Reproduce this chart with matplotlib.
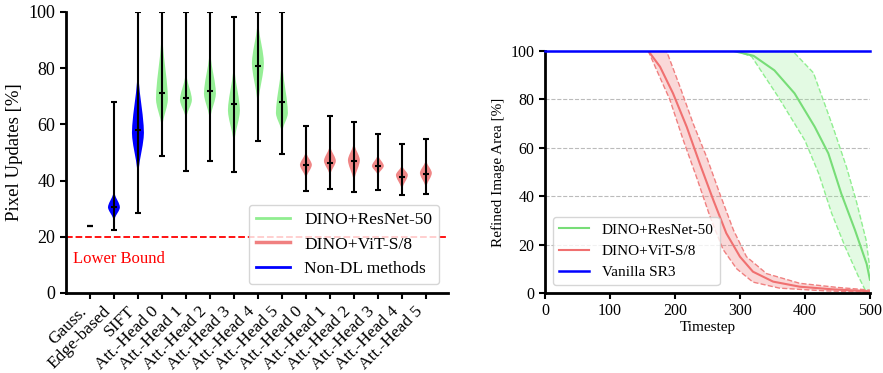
import numpy as np
import matplotlib
matplotlib.use('Agg')
import matplotlib.pyplot as plt
from matplotlib.lines import Line2D

plt.rcParams['font.family'] = ['Liberation Serif', 'DejaVu Serif']

# ---------------- left panel data ----------------
labels = ['Gauss.', 'Edge-based', 'SIFT',
          'Att.-Head 0', 'Att.-Head 1', 'Att.-Head 2', 'Att.-Head 3', 'Att.-Head 4', 'Att.-Head 5',
          'Att.-Head 0', 'Att.-Head 1', 'Att.-Head 2', 'Att.-Head 3', 'Att.-Head 4', 'Att.-Head 5']
groups = ['non', 'non', 'non', 'res', 'res', 'res', 'res', 'res', 'res',
          'vit', 'vit', 'vit', 'vit', 'vit', 'vit']
v_min = [24, 22.4, 28.6, 48.9, 43.4, 47.1, 43.0, 54.0, 49.5, 36.4, 37.0, 36.0, 36.8, 35.0, 35.1]
v_max = [24, 68.0, 100, 100, 100, 100, 98.3, 100, 100, 59.4, 63.1, 60.8, 56.7, 53.0, 54.9]
v_med = [24, 30.5, 58.0, 71.3, 69.5, 71.9, 67.3, 80.8, 68.0, 45.6, 46.1, 47.0, 45.2, 41.4, 42.3]
# visible extent of each violin body and the height where it is widest
shape_lo = [24, 25.0, 39.0, 57.0, 61.0, 60.0, 51.0, 64.0, 56.0, 40.0, 41.0, 38.4, 41.4, 36.0, 36.6]
shape_pk = [24, 30.5, 57.0, 69.0, 68.7, 71.0, 65.0, 81.8, 64.0, 45.6, 47.0, 47.3, 45.2, 42.0, 42.7]
shape_hi = [24, 37.0, 83.0, 97.0, 80.0, 89.0, 84.0, 99.6, 86.0, 51.0, 53.3, 54.4, 49.8, 46.0, 48.0]
# relative width profile from tip (0) to widest point (1)
prof_t = [0.0, 0.15, 0.3, 0.45, 0.6, 0.75, 0.9, 1.0]
prof_w = [0.0, 0.05, 0.15, 0.32, 0.55, 0.78, 0.95, 1.0]

colors = {'non': '#0000ff', 'res': '#90ee90', 'vit': '#f08080'}

# ---------------- right panel data ----------------
res_t = [0, 290, 321, 353, 384, 415, 436, 456, 477, 495, 500]
res_m = [100, 100, 98, 92, 82.5, 68.7, 57.7, 41, 26, 12, 5.5]
res_up_t = [0, 381, 413, 443, 464, 479, 494, 500]
res_up = [100, 100, 91, 68.7, 52, 38, 22, 10]
res_lo_t = [0, 295, 318, 359, 400, 421, 441, 462, 482, 495, 500]
res_lo = [100, 100, 97.7, 81, 63, 49.5, 33, 19, 7, 0, 0]

vit_t = [0, 159, 177, 197, 218, 238, 259, 279, 300, 320, 351, 392, 443, 500]
vit_m = [100, 100, 93.5, 82.5, 68.7, 53.6, 38.4, 24.7, 15, 8.8, 4.7, 2.6, 1.5, 0.7]
vit_up_t = [0, 187, 208, 228, 249, 269, 290, 310, 341, 392, 450, 500]
vit_up = [100, 100, 85, 70, 56, 41, 26, 15, 8, 4, 2.3, 1.2]
vit_lo_t = [0, 159, 172, 192, 213, 233, 254, 274, 295, 320, 361, 430, 500]
vit_lo = [100, 100, 92, 80, 63, 48, 31.5, 18, 10, 4.5, 2, 0.9, 0.3]

sr3_t = [0, 500]
sr3_v = [100, 100]

fig = plt.figure(figsize=(8.83, 3.73), dpi=100)
ax1 = fig.add_axes([0.0747, 0.2145, 0.4326, 0.7534])
ax2 = fig.add_axes([0.6172, 0.2145, 0.368, 0.6488])

# build violin stats from the read shapes
positions = np.arange(1, len(labels) + 1)
stats = []
for i in range(len(labels)):
    lo, pk, hi = shape_lo[i], shape_pk[i], shape_hi[i]
    if hi - lo < 1e-6:
        coords = np.array([lo - 0.01, lo, lo + 0.01])
        vals = np.array([0.0, 1.0, 0.0])
    else:
        low_c = [lo + t * (pk - lo) for t in prof_t]
        up_c = [hi - t * (hi - pk) for t in prof_t[::-1][1:]]
        coords = np.array(low_c + up_c)
        vals = np.array(prof_w + prof_w[::-1][1:])
    stats.append(dict(coords=coords, vals=vals, mean=v_med[i], median=v_med[i],
                      min=v_min[i], max=v_max[i]))

parts = ax1.violin(stats, positions=positions, widths=0.5,
                   showmeans=False, showextrema=True, showmedians=True)
for i, body in enumerate(parts['bodies']):
    body.set_facecolor(colors[groups[i]])
    body.set_edgecolor('none')
    body.set_alpha(1.0 if groups[i] == 'non' else 0.95)
    if shape_hi[i] - shape_lo[i] < 1e-6:
        body.set_visible(False)
for key in ['cbars', 'cmins', 'cmaxes', 'cmedians']:
    parts[key].set_color('black')
    parts[key].set_linewidth(1.5)
    parts[key].set_zorder(3)

ax1.axhline(20, color='red', linestyle='--', linewidth=1.3, zorder=1)
ax1.text(0.29, 12, 'Lower Bound', color='red', fontsize=12, va='center', ha='left')

ax1.set_xlim(0, 15.92)
ax1.set_ylim(0, 100)
ax1.set_xticks(positions)
ax1.set_xticklabels(labels, rotation=45, ha='right', fontsize=12.5)
ax1.set_yticks([0, 20, 40, 60, 80, 100])
ax1.tick_params(axis='y', labelsize=13, width=1.5, length=4)
ax1.tick_params(axis='x', width=1.5, length=4)
ax1.set_ylabel('Pixel Updates [%]', fontsize=13.5)
ax1.spines['top'].set_visible(False)
ax1.spines['right'].set_visible(False)
ax1.spines['left'].set_linewidth(2)
ax1.spines['bottom'].set_linewidth(2)

handles1 = [Line2D([], [], color='#90ee90', lw=2),
            Line2D([], [], color='#f08080', lw=2.5),
            Line2D([], [], color='#0000ff', lw=2)]
ax1.legend(handles1, ['DINO+ResNet-50', 'DINO+ViT-S/8', 'Non-DL methods'],
           loc='lower right', fontsize=12.5)

# ---------------- right panel ----------------
ax2.fill(res_up_t + res_lo_t[::-1], res_up + res_lo[::-1], color='#90ee90', alpha=0.25, linewidth=0)
ax2.fill(vit_up_t + vit_lo_t[::-1], vit_up + vit_lo[::-1], color='#f08080', alpha=0.3, linewidth=0)
ax2.plot(res_up_t, res_up, color='#90ee90', linestyle='--', linewidth=1)
ax2.plot(res_lo_t, res_lo, color='#90ee90', linestyle='--', linewidth=1)
ax2.plot(vit_up_t, vit_up, color='#f08080', linestyle='--', linewidth=1)
ax2.plot(vit_lo_t, vit_lo, color='#f08080', linestyle='--', linewidth=1)

ax2.plot(res_t, res_m, color='#77dd77', linewidth=1.5, label='DINO+ResNet-50')
ax2.plot(vit_t, vit_m, color='#f07070', linewidth=1.5, label='DINO+ViT-S/8')
ax2.plot(sr3_t, sr3_v, color='#0000ff', linewidth=1.8, label='Vanilla SR3', clip_on=False, zorder=4)

ax2.set_xlim(0, 500)
ax2.set_ylim(0, 100)
ax2.set_xticks([0, 100, 200, 300, 400, 500])
ax2.set_yticks([0, 20, 40, 60, 80, 100])
ax2.yaxis.grid(True, linestyle='--', color='#bbbbbb', linewidth=0.8)
ax2.set_axisbelow(True)
ax2.tick_params(labelsize=11.5, width=1.5, length=4)
ax2.set_xlabel('Timestep', fontsize=11, labelpad=1)
ax2.set_ylabel('Refined Image Area [%]', fontsize=11)
ax2.spines['top'].set_visible(False)
ax2.spines['right'].set_visible(False)
ax2.spines['left'].set_linewidth(2)
ax2.spines['bottom'].set_linewidth(2)
ax2.legend(loc='lower left', fontsize=11)

fig.savefig('out.png', dpi=100)
